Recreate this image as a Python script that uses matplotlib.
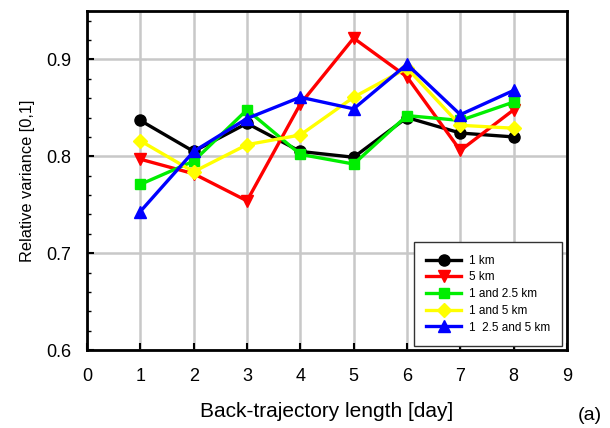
import matplotlib
matplotlib.use("Agg")
import matplotlib.pyplot as plt
from matplotlib.ticker import MultipleLocator

plt.rcParams['font.family'] = ['Liberation Sans', 'DejaVu Sans']

days = [1, 2, 3, 4, 5, 6, 7, 8]
labels = ["1 km", "5 km", "1 and 2.5 km", "1 and 5 km", "1  2.5 and 5 km"]
v_1km = [0.837, 0.805, 0.834, 0.805, 0.799, 0.840, 0.824, 0.820]
v_5km = [0.797, 0.782, 0.754, 0.854, 0.922, 0.882, 0.806, 0.848]
v_1_25 = [0.771, 0.795, 0.848, 0.802, 0.792, 0.842, 0.837, 0.856]
v_1_5 = [0.816, 0.784, 0.812, 0.822, 0.861, 0.891, 0.832, 0.829]
v_all = [0.743, 0.805, 0.839, 0.861, 0.849, 0.895, 0.843, 0.868]

series = [v_1km, v_5km, v_1_25, v_1_5, v_all]
colors = ["#000000", "#ff0000", "#00ee00", "#ffff00", "#0000ff"]
markers = ["o", "v", "s", "D", "^"]
msizes = [8, 8, 7.5, 7, 8]

fig = plt.figure(figsize=(6.10, 4.28), dpi=100)
ax = fig.add_axes([0.1426, 0.1822, 0.7869, 0.7921])

for vals, c, m, ms, lab in zip(series, colors, markers, msizes, labels):
    ax.plot(days, vals, color=c, marker=m, markersize=ms, linewidth=2.4,
            markeredgecolor=c, label=lab, zorder=3)

ax.set_xlim(0, 9)
ax.set_ylim(0.6, 0.95)
ax.xaxis.set_major_locator(MultipleLocator(1))
ax.yaxis.set_minor_locator(MultipleLocator(0.02))
ax.set_yticks([0.6, 0.7, 0.8, 0.9])
ax.set_yticklabels(["0.6", "0.7", "0.8", "0.9"])
ax.grid(True, which='major', color='#c8c8c8', linewidth=1.8, zorder=0)
ax.set_axisbelow(True)
ax.tick_params(axis='both', which='major', direction='in', length=5, width=1.5,
               labelsize=13)
ax.tick_params(axis='x', which='major', pad=13)
ax.tick_params(axis='y', which='major', pad=11.5)
ax.tick_params(axis='y', which='minor', direction='in', length=3, width=1)
for s in ax.spines.values():
    s.set_linewidth(2)

ax.set_xlabel("Back-trajectory length [day]", fontsize=15, labelpad=12)
ax.set_ylabel("Relative variance [0,1]", fontsize=11.8, labelpad=8)

leg = ax.legend(loc='lower right', bbox_to_anchor=(0.99, 0.012), borderaxespad=0,
                fontsize=8.5, fancybox=False, framealpha=1, edgecolor='#333333',
                handlelength=3.0, borderpad=1.05, labelspacing=0.4,
                handletextpad=0.6)
leg.get_frame().set_linewidth(1.0)

fig.text(0.967, 0.03, "(a)", fontsize=14, ha='center', va='center')

fig.savefig("out.png", dpi=100)
